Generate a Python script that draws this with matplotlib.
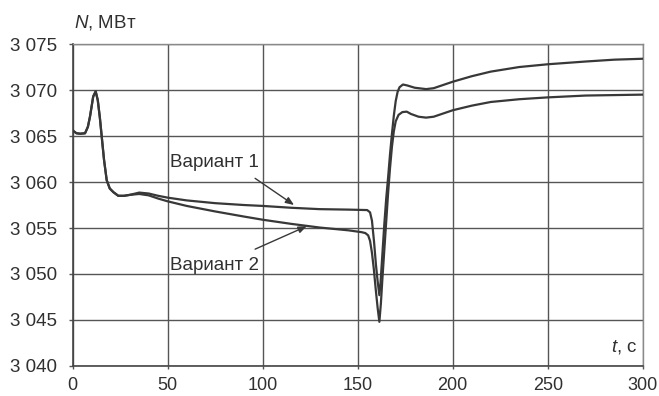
import matplotlib
matplotlib.use("Agg")
import matplotlib.pyplot as plt
from matplotlib.ticker import FuncFormatter

plt.rcParams["font.family"] = ["Liberation Sans", "DejaVu Sans"]
plt.rcParams["mathtext.fontset"] = "custom"
plt.rcParams["mathtext.it"] = "Liberation Sans:italic"
plt.rcParams["mathtext.rm"] = "Liberation Sans"

# Shared initial transient (both variants coincide)
t_common = [0, 2, 4, 6.5, 8, 9.1, 10.8, 12.1, 13.2, 14.3, 15.3, 16.5, 17.9,
            19.5, 21.4, 24, 27, 30]
n_common = [3065.6, 3065.3, 3065.25, 3065.3, 3066.0, 3067.1, 3069.3, 3069.85,
            3068.9, 3067.0, 3064.9, 3062.4, 3060.2, 3059.3, 3058.9, 3058.5,
            3058.5, 3058.6]

# Variant 1
t_v1 = [35, 40, 45, 50, 60, 75, 90, 100, 115, 130, 145, 155, 156.5, 157.5,
        158.6, 159.6, 160.5, 161.4, 162, 163, 164, 165, 166, 167, 168, 169,
        170, 171, 172, 173.8, 176, 180, 186, 190, 200, 210, 220, 235, 250,
        270, 285, 300]
n_v1 = [3058.85, 3058.75, 3058.5, 3058.3, 3058.0, 3057.7, 3057.5, 3057.4,
        3057.2, 3057.05, 3057.0, 3056.95, 3056.7, 3055.8, 3053.5, 3051.0,
        3049.2, 3047.7, 3049.0, 3052.2, 3055.4, 3058.2, 3060.5, 3063.0,
        3065.2, 3067.2, 3068.8, 3069.8, 3070.3, 3070.6, 3070.5, 3070.25,
        3070.1, 3070.2, 3070.9, 3071.5, 3072.0, 3072.5, 3072.8, 3073.1,
        3073.3, 3073.4]

# Variant 2
t_v2 = [35, 40, 45, 50, 60, 75, 90, 100, 115, 130, 145, 152, 154, 155.5,
        156.5, 157.5, 158.5, 159.5, 160.5, 161.4, 162.2, 163, 164, 165, 166,
        167, 168, 169, 170, 171.5, 173.5, 175.8, 178, 182, 186, 190, 200,
        210, 220, 235, 250, 270, 285, 300]
n_v2 = [3058.7, 3058.55, 3058.2, 3057.9, 3057.4, 3056.8, 3056.25, 3055.9,
        3055.45, 3055.05, 3054.75, 3054.55, 3054.45, 3054.2, 3053.6, 3052.3,
        3050.5, 3048.3, 3046.3, 3044.8, 3046.8, 3049.5, 3052.6, 3055.7,
        3058.8, 3061.5, 3063.8, 3065.5, 3066.6, 3067.3, 3067.6, 3067.65,
        3067.4, 3067.1, 3067.0, 3067.1, 3067.8, 3068.3, 3068.7, 3069.0,
        3069.2, 3069.4, 3069.45, 3069.5]

x_ticks = [0, 50, 100, 150, 200, 250, 300]
y_ticks = [3040, 3045, 3050, 3055, 3060, 3065, 3070, 3075]

line_col = "#383838"
grid_col = "#555555"
text_col = "#303030"

fig = plt.figure(figsize=(6.59, 3.96), dpi=100)
ax = fig.add_axes([0.1103, 0.0758, 0.865, 0.813])

ax.plot(t_common + t_v1, n_common + n_v1, color=line_col, lw=1.6, zorder=3)
ax.plot(t_common + t_v2, n_common + n_v2, color=line_col, lw=1.6, zorder=3)

ax.set_xlim(0, 300)
ax.set_ylim(3040, 3075)
ax.set_xticks(x_ticks)
ax.set_yticks(y_ticks)
ax.yaxis.set_major_formatter(FuncFormatter(lambda v, p: f"{int(v):,}".replace(",", " ")))
ax.grid(True, color=grid_col, lw=1.0)
ax.set_axisbelow(True)

ax.tick_params(axis="y", length=3, width=1, color=grid_col, pad=8,
               labelsize=13.5, labelcolor=text_col)
ax.tick_params(axis="x", length=2, width=1, color=grid_col, pad=6,
               labelsize=13, labelcolor=text_col)

for side in ("left", "bottom"):
    ax.spines[side].set_color("#444444")
    ax.spines[side].set_linewidth(1.2)
for side in ("top", "right"):
    ax.spines[side].set_color("#8a8a8a")
    ax.spines[side].set_linewidth(1.0)

fig.text(74 / 659, 1 - 23 / 396, "$N$, МВт", ha="left", va="center",
         fontsize=13.5, color=text_col)
ax.text(297, 3042.1, "$t$, с", ha="right", va="center", fontsize=13.5,
        color=text_col)

arrow_kw = dict(arrowstyle="-|>,head_length=0.5,head_width=0.2",
                color=line_col, lw=1.0, shrinkA=0, shrinkB=0)
ax.text(51, 3062.1, "Вариант 1", ha="left", va="center", fontsize=13.5,
        color=text_col)
ax.annotate("", xy=(116.5, 3057.5), xytext=(96, 3060.4), arrowprops=arrow_kw)
ax.text(51, 3050.9, "Вариант 2", ha="left", va="center", fontsize=13.5,
        color=text_col)
ax.annotate("", xy=(123.2, 3055.2), xytext=(96, 3052.7), arrowprops=arrow_kw)

fig.savefig("out.png", dpi=100)
